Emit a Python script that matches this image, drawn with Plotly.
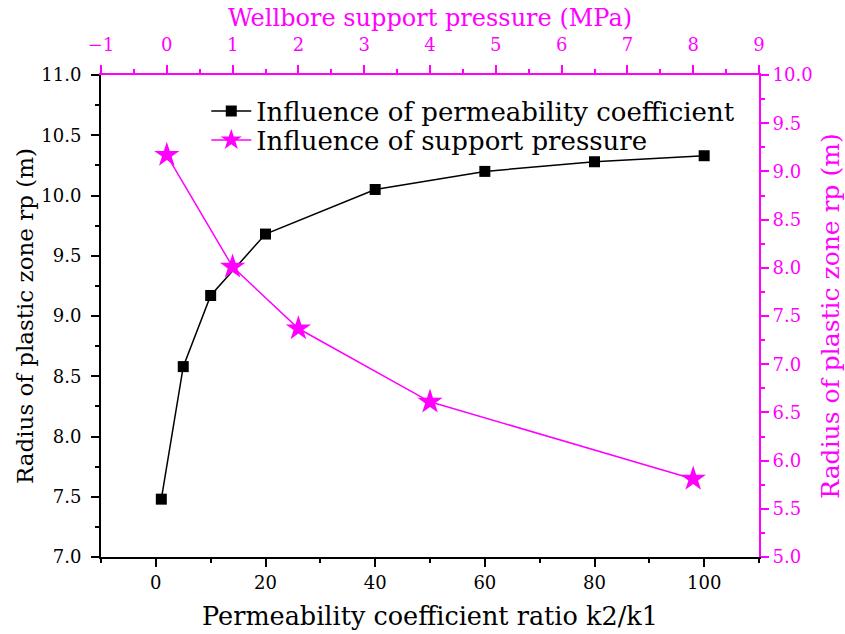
import plotly.graph_objects as go

# Data
perm_ratio = [1, 5, 10, 20, 40, 60, 80, 100]
rp_perm = [7.48, 8.58, 9.17, 9.68, 10.05, 10.20, 10.28, 10.33]

support_pressure = [0, 1, 2, 4, 8]
rp_support = [9.17, 8.01, 7.37, 6.61, 5.81]

MAG = "#FF00FF"
FONT = "DejaVu Serif"
TICK_SIZE = 18

fig = go.Figure()
fig.add_trace(go.Scatter(
    x=perm_ratio, y=rp_perm, mode="lines+markers",
    name="Influence of permeability coefficient",
    line=dict(color="black", width=1.5),
    marker=dict(symbol="square", size=11, color="black"),
    xaxis="x", yaxis="y", legend="legend",
))
fig.add_trace(go.Scatter(
    x=support_pressure, y=rp_support, mode="lines+markers",
    name="Influence of support pressure",
    line=dict(color=MAG, width=1.5),
    marker=dict(symbol="star", size=19, color=MAG, line=dict(width=0)),
    xaxis="x2", yaxis="y2", legend="legend2",
))

axis_common = dict(showgrid=False, zeroline=False, showline=True, linewidth=2,
                   ticks="outside", ticklen=8, tickwidth=2, automargin=False)

legend_common = dict(x=0.16, xanchor="left", yanchor="middle",
                     bgcolor="rgba(0,0,0,0)", font=dict(size=26, family=FONT),
                     itemwidth=40)

fig.update_layout(
    width=845, height=634,
    margin=dict(l=101, r=86, t=75, b=77, autoexpand=False),
    plot_bgcolor="white", paper_bgcolor="white",
    font=dict(family=FONT, size=TICK_SIZE, color="black"),
    xaxis=dict(**axis_common, range=[-10, 110], tick0=0, dtick=20,
               linecolor="black", tickcolor="black",
               tickfont=dict(size=TICK_SIZE, family=FONT),
               minor=dict(dtick=10, ticks="outside", ticklen=4, tickwidth=2, tickcolor="black"),
               title=dict(text="Permeability coefficient ratio k2/k1",
                          font=dict(size=25.5, family=FONT), standoff=16)),
    yaxis=dict(**axis_common, range=[7.0, 11.0], tick0=7, dtick=0.5, tickformat=".1f",
               linecolor="black", tickcolor="black", ticklabelstandoff=6,
               tickfont=dict(size=TICK_SIZE, family=FONT),
               minor=dict(dtick=0.25, ticks="outside", ticklen=4, tickwidth=2, tickcolor="black"),
               title=dict(text="Radius of plastic zone rp (m)",
                          font=dict(size=23, family=FONT), standoff=1)),
    xaxis2=dict(**axis_common, range=[-1, 9], tick0=0, dtick=1, overlaying="x",
                side="top", anchor="y2", ticklabelstandoff=7,
                linecolor=MAG, tickcolor=MAG, tickfont=dict(color=MAG, size=TICK_SIZE, family=FONT),
                minor=dict(dtick=0.5, ticks="outside", ticklen=4, tickwidth=2, tickcolor=MAG),
                title=dict(text="Wellbore support pressure (MPa)",
                           font=dict(size=24, family=FONT, color=MAG), standoff=0)),
    yaxis2=dict(**axis_common, range=[5.0, 10.0], tick0=5, dtick=0.5, tickformat=".1f",
                overlaying="y", side="right", anchor="x2",
                linecolor=MAG, tickcolor=MAG, tickfont=dict(color=MAG, size=TICK_SIZE, family=FONT),
                minor=dict(dtick=0.25, ticks="outside", ticklen=4, tickwidth=2, tickcolor=MAG),
                title=dict(text="Radius of plastic zone rp (m)",
                           font=dict(size=25, family=FONT, color=MAG), standoff=18)),
    legend=dict(**legend_common, y=1 - (111 - 75) / 482),
    legend2=dict(**legend_common, y=1 - (140 - 75) / 482),
    showlegend=True,
)

fig.write_html("out.html")
